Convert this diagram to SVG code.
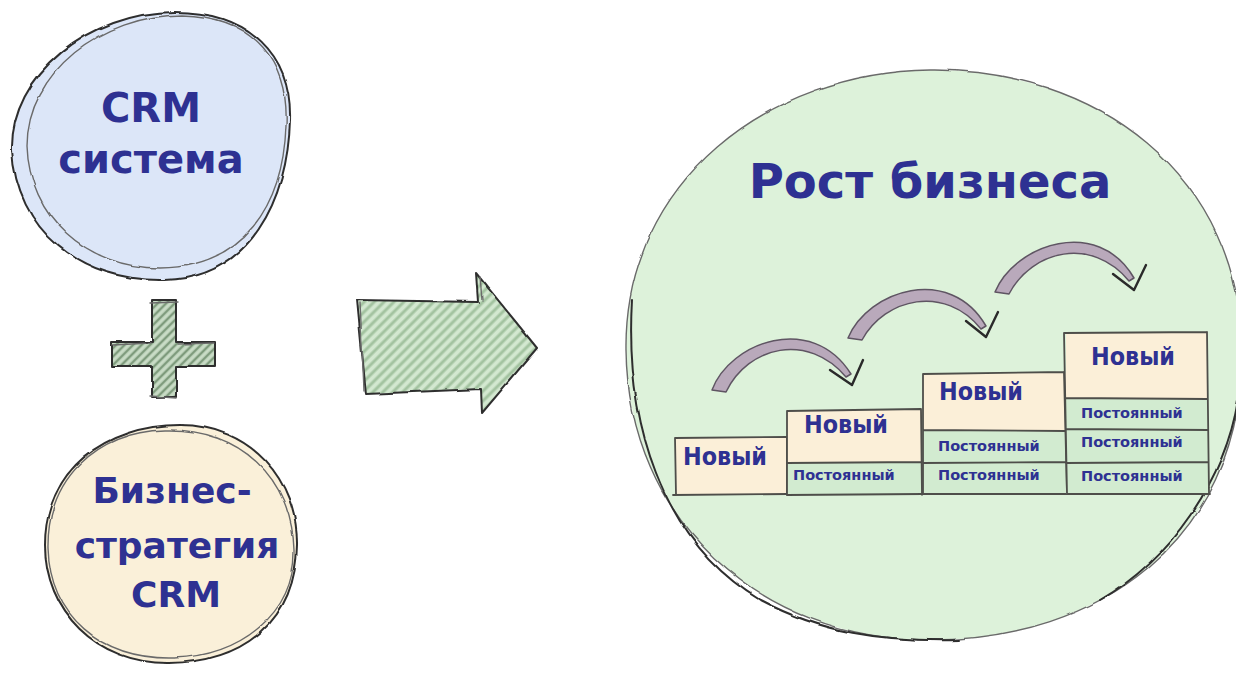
<svg xmlns="http://www.w3.org/2000/svg" width="1236" height="680" viewBox="0 0 1236 680">
  <defs>
    <pattern id="hatch-light" width="7" height="7" patternUnits="userSpaceOnUse" patternTransform="rotate(45)">
      <rect width="7" height="7" fill="#d3e8d0"/>
      <line x1="2" y1="0" x2="2" y2="7" stroke="#a3c3a0" stroke-width="3"/>
    </pattern>
    <pattern id="hatch-dark" width="6" height="6" patternUnits="userSpaceOnUse" patternTransform="rotate(45)">
      <rect width="6" height="6" fill="#c9dcc6"/>
      <line x1="2" y1="0" x2="2" y2="6" stroke="#7e9b7c" stroke-width="2.5"/>
    </pattern>
    <filter id="rough" x="-5%" y="-5%" width="110%" height="110%">
      <feTurbulence type="fractalNoise" baseFrequency="0.04" numOctaves="2" seed="3" result="n"/>
      <feDisplacementMap in="SourceGraphic" in2="n" scale="3" xChannelSelector="R" yChannelSelector="G"/>
    </filter>
  </defs>
  <style>
    .lbl { font-family: "DejaVu Sans", "Liberation Sans", sans-serif; font-weight: bold; fill: #2e3192; }
    .big { font-size: 40px; text-anchor: middle; }
    .mid { font-size: 36px; text-anchor: middle; }
    .title { font-size: 48px; text-anchor: middle; }
    .new { font-size: 25px; }
    .old { font-size: 14.5px; }
    .ink { fill: none; stroke: #2f2f2f; stroke-width: 2; stroke-linecap: round; stroke-linejoin: round; }
    .ink2 { fill: none; stroke: #6b6b6b; stroke-width: 1.4; stroke-linecap: round; }
    .cell-new { fill: #fbefd8; }
    .cell-old { fill: #d2ebd0; }
    .grid { fill: none; stroke: #4e4e4a; stroke-width: 1.8; stroke-linecap: round; }
    .hop { fill: #b9a9bb; stroke: #5f5563; stroke-width: 1.5; stroke-linejoin: round; }
    .tip { fill: none; stroke: #2a2a2a; stroke-width: 2.4; stroke-linecap: round; stroke-linejoin: round; }
  </style>

  <rect width="1236" height="680" fill="#ffffff"/>

  <!-- CRM system bubble -->
  <g id="node-crm-system">
    <path d="M175 12 C250 12 292 55 290 120 C288 200 250 278 165 280 C80 282 16 230 12 150 C10 75 90 12 175 12 Z" fill="#dce6f8"/>
    <g filter="url(#rough)">
      <path class="ink" d="M175 12 C250 12 292 55 290 120 C288 200 250 278 165 280 C80 282 16 230 12 150 C10 75 90 12 175 12 Z"/>
      <path class="ink2" d="M182 15 C256 17 289 62 286 126 C283 205 244 267 160 268 C86 268 29 216 27 146 C27 72 102 15 182 15 Z"/>
    </g>
    <text class="lbl big" x="151" y="122">CRM</text>
    <text class="lbl big" x="151" y="173">система</text>
  </g>

  <!-- plus sign -->
  <g id="node-plus">
    <path d="M152 300 L176 300 L176 342 L215 342 L215 366 L176 366 L176 397 L152 397 L152 366 L112 366 L112 342 L152 342 Z" fill="url(#hatch-dark)"/>
    <g filter="url(#rough)">
      <path class="ink" d="M152 300 L176 300 L176 342 L215 342 L215 366 L176 366 L176 397 L152 397 L152 366 L112 366 L112 342 L152 342 Z"/>
      <path class="ink2" d="M150 303 L178 302 M113 345 L150 343 M178 344 L214 343 M150 396 L176 398"/>
    </g>
  </g>

  <!-- business strategy bubble -->
  <g id="node-strategy">
    <path d="M180 425 C250 425 298 480 297 545 C296 620 245 662 170 663 C95 664 45 610 45 545 C45 470 105 425 180 425 Z" fill="#faf0d9"/>
    <g filter="url(#rough)">
      <path class="ink" d="M180 425 C250 425 298 480 297 545 C296 620 245 662 170 663 C95 664 45 610 45 545 C45 470 105 425 180 425 Z"/>
      <path class="ink2" d="M165 430 C240 428 292 478 294 550 C295 615 240 655 175 658 C100 660 50 615 48 548 C47 480 95 432 165 430 Z"/>
    </g>
    <text class="lbl mid" x="172" y="503">Бизнес-</text>
    <text class="lbl mid" x="177" y="558">стратегия</text>
    <text class="lbl mid" x="176" y="607">CRM</text>
  </g>

  <!-- business growth bubble -->
  <g id="node-growth">
    <path d="M930 70 C1090 68 1245 170 1242 360 C1238 540 1100 640 930 640 C760 640 628 520 626 350 C624 180 770 72 930 70 Z" fill="#ddf2da"/>
    <g filter="url(#rough)">
      <path class="ink2" d="M930 70 C1090 68 1245 170 1242 360 C1238 540 1100 640 930 640 C760 640 628 520 626 350 C624 180 770 72 930 70 Z"/>
      <path class="ink" d="M632 300 C625 420 660 540 760 600 C820 632 880 642 960 640 M1100 600 C1170 560 1225 480 1238 400"/>
    </g>
    <text class="lbl title" x="930" y="198">Рост бизнеса</text>

    <!-- step 1 -->
    <g id="step-1">
      <rect class="cell-new" x="675" y="438" width="112" height="57"/>
      <path class="grid" d="M675 438 L787 437 M675 438 L676 495 M787 437 L787 495 M673 495 L788 494"/>
      <text class="lbl new" x="683" y="465" textLength="84" lengthAdjust="spacingAndGlyphs">Новый</text>
    </g>
    <!-- step 2 -->
    <g id="step-2">
      <rect class="cell-new" x="787" y="410" width="135" height="53"/>
      <rect class="cell-old" x="787" y="463" width="135" height="32"/>
      <path class="grid" d="M787 411 L921 409 M787 411 L787 495 M921 409 L922 495 M787 463 L922 462 M787 495 L923 494"/>
      <text class="lbl new" x="804" y="433" textLength="84" lengthAdjust="spacingAndGlyphs">Новый</text>
      <text class="lbl old" x="793" y="480">Постоянный</text>
    </g>
    <!-- step 3 -->
    <g id="step-3">
      <rect class="cell-new" x="923" y="373" width="143" height="57"/>
      <rect class="cell-old" x="923" y="430" width="143" height="64"/>
      <path class="grid" d="M923 374 L1064 372 M923 374 L923 494 M1064 372 L1067 494 M923 430 L1065 431 M923 463 L1066 462 M923 494 L1067 494"/>
      <text class="lbl new" x="939" y="400" textLength="84" lengthAdjust="spacingAndGlyphs">Новый</text>
      <text class="lbl old" x="938" y="451">Постоянный</text>
      <text class="lbl old" x="938" y="480">Постоянный</text>
    </g>
    <!-- step 4 -->
    <g id="step-4">
      <rect class="cell-new" x="1066" y="333" width="142" height="65"/>
      <rect class="cell-old" x="1066" y="398" width="142" height="96"/>
      <path class="grid" d="M1064 333 L1207 332 M1064 333 L1067 494 M1207 332 L1209 494 M1066 398 L1207 399 M1066 429 L1208 430 M1066 463 L1208 462 M1067 494 L1210 494"/>
      <text class="lbl new" x="1091" y="365" textLength="84" lengthAdjust="spacingAndGlyphs">Новый</text>
      <text class="lbl old" x="1081" y="418">Постоянный</text>
      <text class="lbl old" x="1081" y="447">Постоянный</text>
      <text class="lbl old" x="1081" y="481">Постоянный</text>
    </g>
  </g>

  <!-- connectors -->
  <g id="connectors">
    <!-- main transition arrow -->
    <g id="edge-inputs-to-growth">
      <path d="M357 300 L478 302 L476 273 L537 348 L482 413 L481 389 L366 394 Z" fill="url(#hatch-light)"/>
      <g filter="url(#rough)">
        <path class="ink" d="M357 300 L478 302 L476 273 L537 348 L482 413 L481 389 L366 394 Z"/>
        <path class="ink2" d="M360 303 L364 390 M480 277 L482 300"/>
      </g>
    </g>
    <!-- hops between steps -->
    <g id="edge-step1-step2">
      <path class="hop" d="M712 390 C730 342 812 312 851 374 L846 377 C808 332 748 346 726 392 Z"/>
      <path class="tip" d="M830 370 L852 385 L863 360"/>
    </g>
    <g id="edge-step2-step3">
      <path class="hop" d="M848 338 C868 290 950 264 986 326 L981 329 C945 284 885 298 862 340 Z"/>
      <path class="tip" d="M966 321 L986 337 L998 312"/>
    </g>
    <g id="edge-step3-step4">
      <path class="hop" d="M995 292 C1015 244 1098 216 1134 278 L1129 281 C1092 236 1032 250 1009 294 Z"/>
      <path class="tip" d="M1113 274 L1134 290 L1146 265"/>
    </g>
  </g>
</svg>
